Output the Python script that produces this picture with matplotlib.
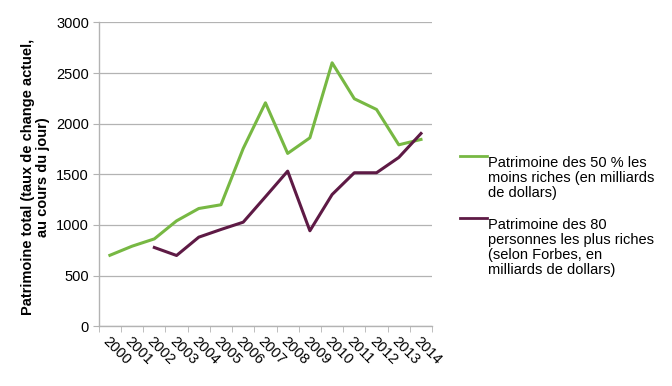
import matplotlib.pyplot as plt
from matplotlib.lines import Line2D

plt.rcParams['font.family'] = ['Liberation Sans', 'DejaVu Sans']

years = ['2000', '2001', '2002', '2003', '2004', '2005', '2006', '2007',
         '2008', '2009', '2010', '2011', '2012', '2013', '2014']

# patrimoine des 50 % les moins riches
bottom50 = [700, 790, 862, 1040, 1162, 1199, 1755, 2206, 1706, 1860,
            2601, 2246, 2140, 1791, 1844]

# patrimoine des 80 plus riches (from 2002)
top80_years = years[2:]
top80 = [777, 698, 879, 955, 1027, 1278, 1531, 942, 1300, 1515, 1515,
         1666, 1903]

label_bottom = 'Patrimoine des 50 % les\nmoins riches (en milliards\nde dollars)'
label_top = 'Patrimoine des 80\npersonnes les plus riches\n(selon Forbes, en\nmilliards de dollars)'

green = '#77b843'
purple = '#5e1a45'
grey = '#b3b3b3'

fig = plt.figure(figsize=(6.72, 3.86), dpi=100)
ax = fig.add_axes([0.147, 0.155, 0.496, 0.787])

x_all = list(range(len(years)))
x_top = [years.index(y) for y in top80_years]

ax.plot(x_all, bottom50, color=green, lw=2.2, zorder=3)
ax.plot(x_top, top80, color=purple, lw=2.2, zorder=3)

ax.set_xlim(-0.5, len(years) - 0.5)
ax.set_ylim(0, 3000)
ax.set_yticks(range(0, 3001, 500))
ax.yaxis.grid(True, color=grey, lw=0.9)
ax.set_axisbelow(True)

for s in ['top', 'right']:
    ax.spines[s].set_visible(False)
for s in ['left', 'bottom']:
    ax.spines[s].set_color(grey)
    ax.spines[s].set_linewidth(1.0)

# category ticks sit between years, labels at the centres
ax.set_xticks([i - 0.5 for i in range(len(years) + 1)], minor=True)
ax.set_xticks(x_all)
ax.set_xticklabels(years, rotation=-45, ha='left', va='top',
                   rotation_mode='anchor', fontsize=10.5)
ax.tick_params(axis='x', which='major', length=0, pad=6)
ax.tick_params(axis='x', which='minor', length=4, color=grey)
ax.tick_params(axis='y', length=4, color=grey, labelsize=10.5, pad=3)

ax.set_ylabel('Patrimoine total (taux de change actuel,\nau cours du jour)',
              fontsize=10.5, fontweight='bold', linespacing=1.1)
ax.yaxis.set_label_coords(-0.147, 0.49)

# legend drawn by hand so the key sits on the first line
for y0, col, txt in [(0.597, green, label_bottom), (0.435, purple, label_top)]:
    fig.add_artist(Line2D([0.685, 0.725], [y0, y0], color=col, lw=2.0,
                          transform=fig.transFigure))
    fig.text(0.726, y0, txt, fontsize=10.5, va='top', ha='left',
             linespacing=1.1, transform=fig.transFigure)

fig.savefig('out.png', dpi=100)
